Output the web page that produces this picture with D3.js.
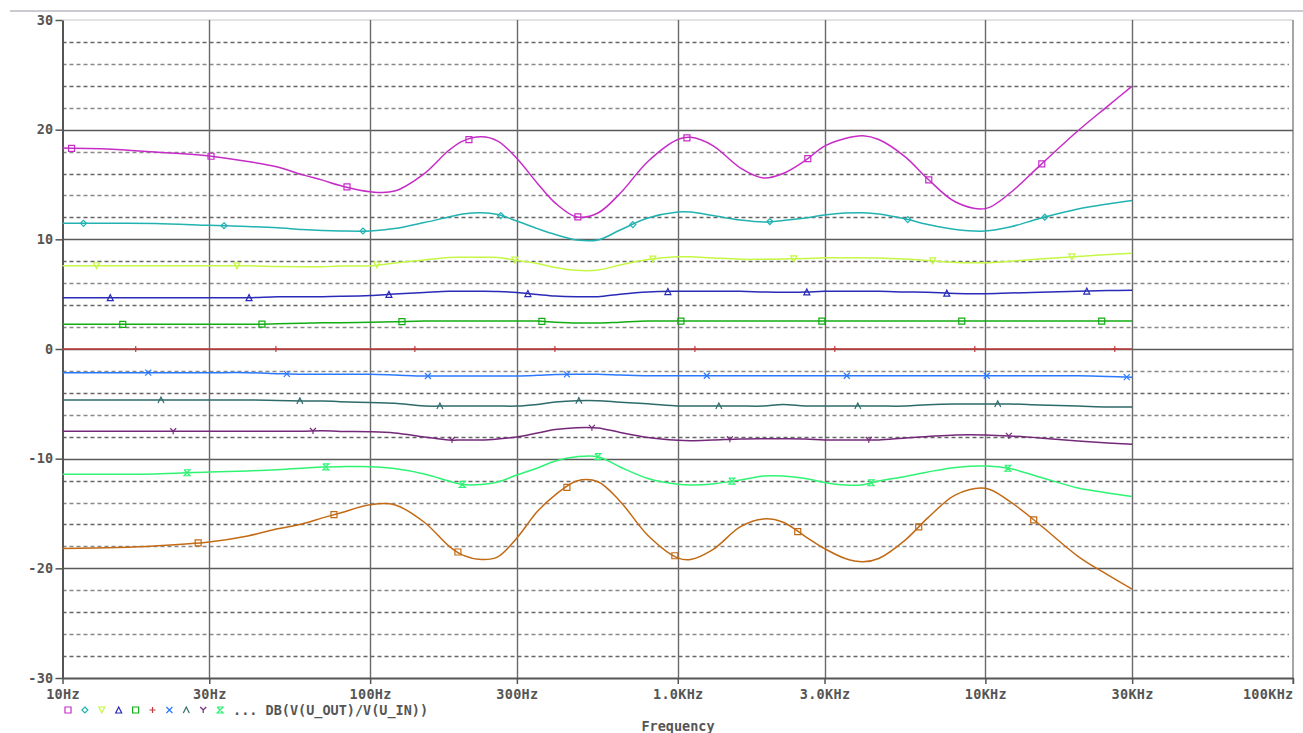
<!DOCTYPE html>
<html>
<head>
<meta charset="utf-8">
<script src="https://cdn.jsdelivr.net/npm/d3@7"></script>
<style>
html,body{margin:0;padding:0;background:#fff;}
svg{display:block;}
text{font-family:"DejaVu Sans Mono","Liberation Mono",monospace;font-weight:bold;fill:#555;}
</style>
</head>
<body>
<svg id="chart" width="1303" height="733"></svg>
<script>
// ---------- DATA ----------
const freqs = [10,15,20,30,40,50,60,70,80,100,120,150,180,200,230,260,300,350,400,470,550,650,800,1000,1100,1300,1600,1900,2200,2600,3000,3500,4000,4500,5500,6500,8000,10000,12000,15000,20000,25000,30000];

const s1 = [18.32,18.2,17.96,17.6,17.1,16.6,15.9,15.4,14.9,14.34, 14.4,16.0,18.1,18.96,19.35,18.96,17.37,15.1,13.3,12.03, 12.4,14.2,17.1,19.1,19.3,18.55,16.5,15.6,16.0,17.2, 18.5,19.2,19.45,19.1,17.5,15.5,13.4,12.8,14.2,16.7, 19.9,22.15,23.97];
const s2 = [11.46,11.46,11.44,11.28,11.17,11.05,10.89,10.8,10.76,10.76, 10.98,11.53,12.03,12.3,12.42,12.26,11.67,10.98,10.44,9.94, 9.94,10.85,11.94,12.49,12.49,12.17,11.76,11.58,11.71,11.94, 12.22,12.4,12.42,12.3,11.85,11.35,10.89,10.76,11.12,11.9, 12.76,13.22,13.54];
const s3 = [7.59,7.59,7.59,7.59,7.58,7.52,7.5,7.5,7.57,7.59, 7.84,8.11,8.34,8.36,8.36,8.34,8.07,7.79,7.43,7.17, 7.2,7.66,8.16,8.41,8.41,8.3,8.18,8.18,8.2,8.25, 8.32,8.32,8.31,8.3,8.2,8.07,7.89,7.87,8.0,8.2, 8.43,8.61,8.72];
const s4 = [4.68,4.68,4.68,4.68,4.68,4.76,4.77,4.77,4.8,4.88, 5.01,5.15,5.26,5.26,5.26,5.24,5.15,4.97,4.83,4.77, 4.77,5.0,5.2,5.26,5.26,5.26,5.26,5.2,5.17,5.2, 5.26,5.26,5.26,5.26,5.2,5.17,5.06,5.04,5.1,5.17, 5.26,5.33,5.35];
const s5 = [2.25,2.25,2.25,2.25,2.25,2.3,2.35,2.4,2.4,2.43, 2.48,2.55,2.55,2.55,2.55,2.55,2.55,2.55,2.45,2.37, 2.37,2.45,2.55,2.55,2.55,2.55,2.55,2.55,2.55,2.55, 2.55,2.55,2.55,2.55,2.55,2.55,2.55,2.55,2.55,2.55, 2.55,2.55,2.55];
const s6 = [0,0,0,0,0,0,0,0,0,0, 0,0,0,0,0,0,0,0,0,0, 0,0,0,0,0,0,0,0,0,0, 0,0,0,0,0,0,0,0,0,0, 0,0,0];
const s7 = [-2.16,-2.16,-2.16,-2.16,-2.16,-2.25,-2.31,-2.31,-2.31,-2.31, -2.37,-2.46,-2.46,-2.46,-2.46,-2.46,-2.46,-2.4,-2.33,-2.31, -2.31,-2.37,-2.44,-2.44,-2.44,-2.44,-2.44,-2.44,-2.44,-2.44, -2.44,-2.44,-2.44,-2.44,-2.44,-2.44,-2.44,-2.44,-2.44,-2.44, -2.44,-2.5,-2.58];
const s8 = [-4.65,-4.65,-4.65,-4.65,-4.65,-4.7,-4.74,-4.74,-4.8,-4.88, -4.95,-5.2,-5.2,-5.2,-5.2,-5.2,-5.2,-5.05,-4.84,-4.71, -4.71,-4.85,-5.0,-5.2,-5.2,-5.2,-5.2,-5.2,-5.05,-5.2, -5.2,-5.2,-5.2,-5.2,-5.2,-5.08,-5.01,-5.01,-5.01,-5.1, -5.2,-5.29,-5.29];
const s9 = [-7.5,-7.5,-7.5,-7.5,-7.5,-7.5,-7.5,-7.45,-7.52,-7.55, -7.66,-8.02,-8.3,-8.3,-8.3,-8.2,-8.02,-7.66,-7.34,-7.17, -7.2,-7.61,-8.07,-8.32,-8.36,-8.3,-8.2,-8.18,-8.18,-8.2, -8.3,-8.3,-8.3,-8.3,-8.11,-7.98,-7.84,-7.84,-7.93,-8.11, -8.39,-8.57,-8.69];
const s10 = [-11.42,-11.42,-11.39,-11.21,-11.12,-11.01,-10.88,-10.76,-10.73,-10.73, -10.89,-11.39,-12.03,-12.35,-12.35,-12.12,-11.49,-10.85,-10.21,-9.82, -9.82,-10.76,-11.8,-12.33,-12.4,-12.3,-11.94,-11.58,-11.58,-11.8, -12.17,-12.4,-12.37,-12.03,-11.62,-11.21,-10.8,-10.67,-10.89,-11.67, -12.67,-13.13,-13.46];
const s11 = [-18.19,-18.1,-17.96,-17.6,-17.05,-16.4,-15.95,-15.4,-14.95,-14.2, -14.2,-15.8,-17.95,-18.8,-19.2,-18.96,-17.23,-14.8,-13.3,-12.03, -12.1,-13.9,-17.0,-19.05,-19.2,-18.3,-16.2,-15.5,-15.8,-17.1, -18.2,-19.1,-19.4,-19.1,-17.4,-15.4,-13.3,-12.7,-13.9,-16.0, -18.9,-20.6,-21.9];

// marker frequencies for each trace
const m1 = [10.7,30.4,84.1,209.5,473.5,1071,2647,6546,15255];
const m2 = [11.7,33.5,94.8,266,714.5,1992,5595,15600];
const m3 = [12.9,36.9,105.2,295.6,830,2384,6745,19090];
const m4 = [14.3,40.4,115.1,325.7,928.6,2628,7491,21360];
const m5 = [15.7,44.5,126.9,361.7,1024,2941,8380,23890];
const m6 = [17.3,49.4,139.8,398.7,1137,3240,9240,26340];
const m7 = [19.0,53.6,154.1,436.2,1243,3544,10100,28810];
const m8 = [20.9,59.1,168.6,477,1360,3848,10970];
const m9 = [22.9,65.2,184.5,525.9,1477,4179,11920];
const m10 = [25.4,71.8,199.4,550,1499,4251,11830];
const m11 = [27.6,76.3,192.9,436.2,978.6,2455,6073,14360];

const xTicks = [10,30,100,300,1000,3000,10000,30000,100000];
const xTickLabels = ["10Hz","30Hz","100Hz","300Hz","1.0KHz","3.0KHz","10KHz","30KHz","100KHz"];
const yTicks = [-30,-20,-10,0,10,20,30];
const yTickLabels = ["-30","-20","-10","0","10","20","30"];
const yMinor = [-28,-26,-24,-22,-18,-16,-14,-12,-8,-6,-4,-2,2,4,6,8,12,14,16,18,22,24,26,28];
const traceName = "DB(V(U_OUT)/V(U_IN))";
const xTitle = "Frequency";

// ---------- STYLES ----------
const seriesList = [s1,s2,s3,s4,s5,s6,s7,s8,s9,s10,s11];
const markerList = [m1,m2,m3,m4,m5,m6,m7,m8,m9,m10,m11];
const colors = ["#c62cc6","#22b2b2","#c4f844","#2a2ab8","#12ad12","#c23a3a","#2a78ff","#2e6a6a","#74287a","#2ef474","#c26a14"];
const symbols = ["square","diamond","triDown","triUp","square","plus","x","lambda","Y","hourglass","square"];

function symPath(t){
  const s=3;
  switch(t){
    case "square": return `M${-s},${-s}H${s}V${s}H${-s}Z`;
    case "diamond": return `M0,${-s}L${s},0L0,${s}L${-s},0Z`;
    case "triDown": return `M${-s},${-s}H${s}L0,${s}Z`;
    case "triUp": return `M0,${-s}L${s},${s}H${-s}Z`;
    case "plus": return `M${-s},0H${s}M0,${-s}V${s}`;
    case "x": return `M${-s},${-s}L${s},${s}M${s},${-s}L${-s},${s}`;
    case "lambda": return `M${-s},${s}L0,${-s}L${s},${s}`;
    case "Y": return `M${-s},${-s}L0,0L${s},${-s}M0,0V${s}`;
    case "hourglass": return `M${-s},${-s}H${s}L${-s},${s}H${s}L${-s},${-s}`;
  }
}

// ---------- DRAW ----------
const svg = d3.select("#chart");
const L=62.5, R=1293, T=20, B=678;
const x = d3.scaleLog().domain([10,100000]).range([L,R]);
const y = d3.scaleLinear().domain([-30,30]).range([B,T]);

// window line
svg.append("line").attr("x1",10).attr("x2",1303).attr("y1",11).attr("y2",11).attr("stroke","#b8b8c0").attr("stroke-width",1.5);
// top and right border
svg.append("line").attr("x1",L).attr("x2",R).attr("y1",T).attr("y2",T).attr("stroke","#c8c8c8").attr("stroke-width",1.2);
svg.append("line").attr("x1",R).attr("x2",R).attr("y1",T).attr("y2",B+6).attr("stroke","#888").attr("stroke-width",1.5);

// dashed minor grid
svg.append("g").selectAll("line").data(yMinor).join("line")
  .attr("x1",L).attr("x2",R-4).attr("y1",d=>Math.round(y(d))+0.5).attr("y2",d=>Math.round(y(d))+0.5)
  .attr("stroke",(d,i)=> (Math.abs(d)%4===0)?"#666":"#888").attr("stroke-width",1.3).attr("stroke-dasharray","4,3");
// solid major horizontal grid
svg.append("g").selectAll("line").data(yTicks.filter(v=>v!==-30&&v!==30)).join("line")
  .attr("x1",L).attr("x2",R).attr("y1",d=>Math.round(y(d))+0.5).attr("y2",d=>Math.round(y(d))+0.5)
  .attr("stroke","#5a5a5a").attr("stroke-width",1.4);
// vertical grid
svg.append("g").selectAll("line").data(xTicks.slice(1,-1)).join("line")
  .attr("x1",d=>Math.round(x(d))+0.5).attr("x2",d=>Math.round(x(d))+0.5).attr("y1",T).attr("y2",B)
  .attr("stroke","#6a6a6a").attr("stroke-width",1.4);

// axes
const xAxis = d3.axisBottom(x).tickValues(xTicks).tickFormat((d,i)=>xTickLabels[i]).tickSize(6).tickPadding(5).tickSizeOuter(0);
const gx = svg.append("g").attr("transform",`translate(0,${B})`).call(xAxis);
gx.select(".domain").attr("stroke","#555").attr("stroke-width",2);
gx.selectAll(".tick line").attr("stroke","#555").attr("stroke-width",1.5);
gx.selectAll(".tick text").style("font-size","13.5px").attr("fill","#555").style("letter-spacing","0.3px");
gx.selectAll(".tick text").filter((d,i)=>i===xTicks.length-1).attr("text-anchor","end").attr("dx","0");

const yAxis = d3.axisLeft(y).tickValues(yTicks).tickFormat((d,i)=>yTickLabels[i]).tickSize(7).tickPadding(2).tickSizeOuter(0);
const gy = svg.append("g").attr("transform",`translate(${L},0)`).call(yAxis);
gy.select(".domain").attr("stroke","#555").attr("stroke-width",2);
gy.selectAll(".tick line").attr("stroke","#555").attr("stroke-width",1.5);
gy.selectAll(".tick text").style("font-size","13.5px").attr("fill","#555").style("letter-spacing","0.3px");

// traces
const line = d3.line().x(d=>x(d[0])).y(d=>y(d[1])).curve(d3.curveCatmullRom.alpha(0.5));
const lf = freqs.map(f=>Math.log10(f));
function valAt(series,f){
  const t=Math.log10(f);
  let i=d3.bisectRight(lf,t)-1; i=Math.max(0,Math.min(lf.length-2,i));
  const u=(t-lf[i])/(lf[i+1]-lf[i]);
  return series[i]+(series[i+1]-series[i])*u;
}
const gT = svg.append("g");
seriesList.forEach((s,k)=>{
  gT.append("path").datum(freqs.map((f,i)=>[f,s[i]]))
    .attr("d",line).attr("fill","none").attr("stroke",colors[k]).attr("stroke-width",1.5);
});
seriesList.forEach((s,k)=>{
  gT.append("g").selectAll("path").data(markerList[k]).join("path")
    .attr("transform",f=>`translate(${x(f)},${y(valAt(s,f))})`)
    .attr("d",symPath(symbols[k])).attr("fill","none").attr("stroke",colors[k]).attr("stroke-width",1.2);
});

// legend (first ten trace symbols, then ellipsis)
const gL = svg.append("g").attr("transform","translate(0,710)");
colors.slice(0,10).forEach((c,k)=>{
  gL.append("path").attr("transform",`translate(${68+k*16.9},0)`).attr("d",symPath(symbols[k]))
    .attr("fill","none").attr("stroke",c).attr("stroke-width",1.2);
});
gL.append("text").attr("x",233).attr("y",0).attr("dy","0.35em").style("font-size","13.5px").text("... "+traceName);

// x title
svg.append("text").attr("x",678).attr("y",726).attr("dy","0.35em").attr("text-anchor","middle").style("font-size","13.5px").attr("fill","#555").text(xTitle);
</script>
</body>
</html>
